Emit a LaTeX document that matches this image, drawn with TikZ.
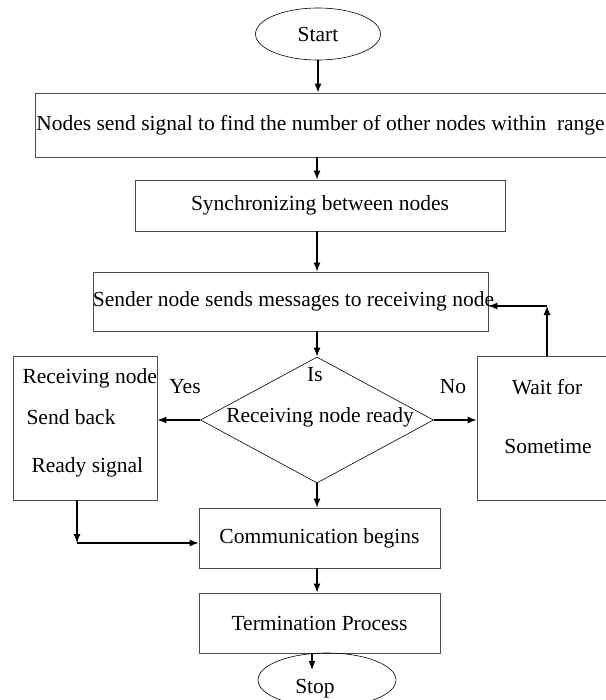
\documentclass[tikz,border=0pt]{standalone}
\usepackage{fontspec}
\setmainfont{Liberation Serif}
\usetikzlibrary{arrows,arrows.meta,positioning,shapes.geometric}

\begin{document}
\begin{tikzpicture}[x=1pt,y=-1pt,
    font=\fontsize{21.5}{25}\selectfont,
    box/.style={draw=black!70, line width=0.8pt, rectangle, inner sep=0pt},
    term/.style={draw, ellipse, line width=0.6pt, inner sep=0pt},
    decision/.style={draw, diamond, line width=0.6pt, inner sep=0pt},
    arr/.style={-{Latex[length=9pt,width=7pt]}, line width=1.2pt}]
    \useasboundingbox (0,0) rectangle (605,700);
    % main column
    \node[term, minimum width=125, minimum height=52] (start) at (318,34) {Start};
    \node[box, minimum width=571, minimum height=64] (scan) at (320.5,125)
        {Nodes send signal to find the number of other nodes within\ \ range};
    \node[box, minimum width=370, minimum height=51] (sync) at (320,205.5) {Synchronizing between nodes};
    \node[box, minimum width=395, minimum height=59] (send) at (290.5,301.5) {};
    \node (sendtxt) at (293.5,301) {Sender node sends messages to receiving node};
    \node[decision, minimum width=233, minimum height=126] (ready) at (317,420) {};
    \node (is) at (315,375) {Is};
    \node (readytxt) at (320,417) {Receiving node ready};
    \node[box, minimum width=241, minimum height=60] (comm) at (319.5,538) {Communication begins};
    \node[box, minimum width=241, minimum height=60] (term) at (319.5,623) {Termination Process};
    \node[term, minimum width=138, minimum height=54] (stop) at (327,680) {};
    \node (stoptxt) at (315,689) {Stop};
    % side boxes
    \node[box, minimum width=144, minimum height=144] (reply) at (85,428) {};
    \node[anchor=west] (r1) at (19,378) {Receiving node};
    \node[anchor=west] (r2) at (23,417) {Send back};
    \node[anchor=west] (r3) at (28,467) {Ready signal};
    \node[box, minimum width=129, minimum height=144] (wait) at (541.5,428) {};
    \node (w1) at (547,387) {Wait for};
    \node (w2) at (548,446) {Sometime};
    \node (yes) at (185,387) {Yes};
    \node (no) at (453,387) {No};
    \coordinate (c1) at (77,543);
    \coordinate (c2) at (547,306);
    \coordinate (s) at (312,670);
    % connectors
    \draw[arr] (start.south) -- (start.south |- scan.north);
    \draw[arr] (scan.south -| ready) -- (sync.north -| ready);
    \draw[arr] (sync.south -| ready) -- (send.north -| ready);
    \draw[arr] (send.south -| ready) -- (ready.north);
    \draw[arr] (ready.west) -- (reply.east |- ready.west);
    \draw[arr] (ready.east) -- (wait.west |- ready.east);
    \draw[arr] (ready.south) -- (ready.south |- comm.north);
    \draw[arr] (comm.south -| ready) -- (term.north -| ready);
    \draw[arr] (term.south -| s) -- (s);
    \draw[arr] (reply.south -| c1) -- (c1);
    \draw[arr] (c1) -- (comm.west |- c1);
    \draw[arr] (wait.north -| c2) -- (c2);
    \draw[arr] (c2) -- (send.east |- c2);
\end{tikzpicture}
\end{document}
